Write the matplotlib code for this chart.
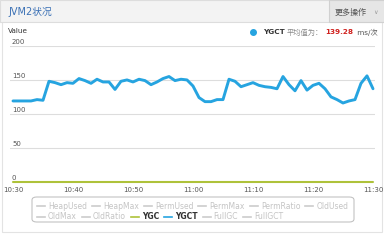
import matplotlib
matplotlib.use('Agg')
import matplotlib.pyplot as plt
from matplotlib.patches import Rectangle, FancyBboxPatch
from matplotlib.lines import Line2D

plt.rcParams['font.family'] = ['DejaVu Sans', 'Noto Sans CJK SC']

W, H = 384, 247

# minutes since 10:30, one sample per minute
minutes = list(range(61))
ygct = [119, 119, 119, 119, 121, 120, 148, 146, 143, 146,
        145, 152, 149, 145, 151, 147, 147, 136, 148, 150,
        147, 151, 149, 143, 147, 152, 155, 149, 151, 150,
        141, 124, 118, 118, 121, 121, 151, 148, 140, 143,
        146, 142, 140, 139, 137, 155, 143, 134, 149, 135,
        142, 145, 137, 125, 121, 116, 119, 121, 145, 156, 137]
ygc = [0] * 61

xtick_pos = [0, 10, 20, 30, 40, 50, 60]
xtick_labels = ['10:30', '10:40', '10:50', '11:00', '11:10', '11:20', '11:30']
ytick_vals = [0, 50, 100, 150, 200]

legend_rows = [['HeapUsed', 'HeapMax', 'PermUsed', 'PermMax', 'PermRatio', 'OldUsed'],
               ['OldMax', 'OldRatio', 'YGC', 'YGCT', 'FullGC', 'FullGCT']]
active = {'YGC': '#aec23a', 'YGCT': '#26a4e0'}
avg_value = '139.28'


def fx(x):
    return x / W


def fy(y):
    return 1 - y / H


fig = plt.figure(figsize=(W / 100, H / 100), dpi=100)
renderer = fig.canvas.get_renderer()

# panel frame + header (kept behind the axes)
fig.patches.append(Rectangle((fx(2), fy(232)), fx(380), 230 / H, transform=fig.transFigure,
                             facecolor='white', edgecolor='#e3e3e3', lw=0.8, zorder=-3))
fig.patches.append(Rectangle((0, fy(22)), 1, 22 / H, transform=fig.transFigure,
                             facecolor='#f3f3f3', edgecolor='#dddddd', lw=0.8, zorder=-2))
fig.patches.append(Rectangle((fx(329), fy(22)), fx(60), 22 / H, transform=fig.transFigure,
                             facecolor='#e6e6e6', edgecolor='#d0d0d0', lw=0.8, zorder=-1))
fig.text(fx(8), fy(12), 'JVM2状况', fontsize=7, color='#3a70b5', va='center')
fig.text(fx(335), fy(12), '更多操作', fontsize=5.8, color='#555555', va='center')
fig.text(fx(373), fy(12.5), '∨', fontsize=4.5, color='#999999', va='center')
fig.text(fx(8), fy(31), 'Value', fontsize=5.2, color='#333333', va='center')

# top-right legend with average
fig.lines.append(Line2D([fx(253)], [fy(32)], marker='o', ms=4, color=active['YGCT'],
                        transform=fig.transFigure))
parts = [('YGCT', 'bold', '#333333'),
         ('平均值为：', 'normal', '#888888'),
         (avg_value, 'bold', '#d0221f'),
         (' ms/次', 'normal', '#555555')]
cx = 263
for txt, wt, col in parts:
    t = fig.text(fx(cx), fy(32), txt, fontsize=5.2, fontweight=wt, color=col, va='center')
    cx += t.get_window_extent(renderer).width + 2

# plot area
x0, x1, ytop, ybot = 10, 375, 46, 181.7
ax = fig.add_axes([fx(x0), fy(ybot), (x1 - x0) / W, (ybot - ytop) / H])
px_per_min = 6.0
ax.set_xlim((x0 - 13) / px_per_min, (x1 - 13) / px_per_min)
ax.set_ylim(0, 200)
ax.set_facecolor('none')
for s in ax.spines.values():
    s.set_visible(False)
for v in ytick_vals[1:]:
    ax.axhline(v, color='#dddddd', lw=0.8, zorder=1)
ax.set_yticks([])
ax.set_xticks(xtick_pos)
ax.set_xticklabels(xtick_labels, fontsize=5, color='#555555')
ax.tick_params(axis='x', length=0, pad=3.5)
for v in ytick_vals:
    ax.text(-0.17, v + 1, str(v), fontsize=5, color='#555555', ha='left', va='bottom')

ax.plot(minutes, ygc, color=active['YGC'], lw=1.5, clip_on=False, zorder=3,
        solid_capstyle='round')
ax.plot(minutes, ygct, color=active['YGCT'], lw=2.1, clip_on=False, zorder=4,
        solid_joinstyle='round', solid_capstyle='round')

# bottom legend box
fig.patches.append(FancyBboxPatch((fx(32), fy(222)), fx(322), 25 / H, transform=fig.transFigure,
                                  boxstyle='round,pad=0,rounding_size=0.012',
                                  facecolor='white', edgecolor='#bbbbbb', lw=0.7))
row_y = [206, 216.5]
for row, yy in zip(legend_rows, row_y):
    cx = 37
    for name in row:
        on = name in active
        col = active[name] if on else '#cccccc'
        fig.lines.append(Line2D([fx(cx), fx(cx + 8)], [fy(yy), fy(yy)], color=col, lw=1.2,
                                transform=fig.transFigure))
        t = fig.text(fx(cx + 11), fy(yy), name, fontsize=5.5, va='center',
                     color='#333333' if on else '#c4c4c4',
                     fontweight='bold' if on else 'normal')
        w = t.get_window_extent(renderer).width
        cx = cx + 11 + w + 5

fig.savefig('out.png', dpi=100)
